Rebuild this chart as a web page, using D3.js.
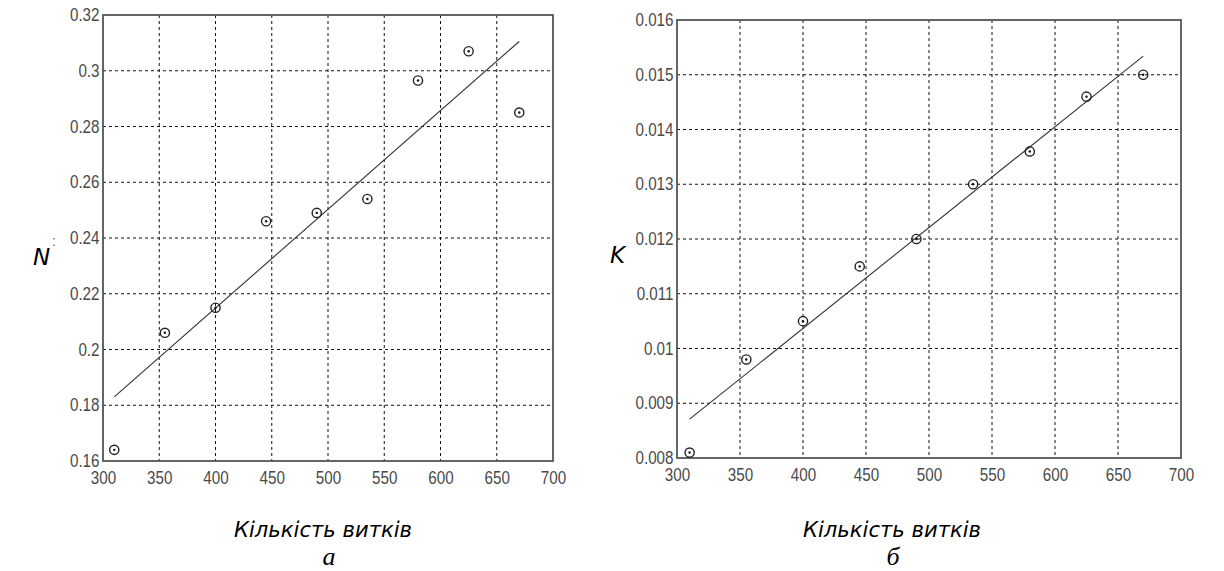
<!DOCTYPE html>
<html>
<head>
<meta charset="utf-8">
<script src="https://cdn.jsdelivr.net/npm/d3@7"></script>
<style>
  html, body { margin: 0; padding: 0; background: #fff; }
  svg { display: block; }
</style>
</head>
<body>
<svg id="chart" width="1224" height="571"></svg>
<script>
// ---------- data ----------
const turns = [310, 355, 400, 445, 490, 535, 580, 625, 670];
const valuesN = [0.164, 0.206, 0.215, 0.246, 0.249, 0.254, 0.2965, 0.307, 0.285];
const valuesK = [0.0081, 0.0098, 0.0105, 0.0115, 0.0120, 0.0130, 0.0136, 0.0146, 0.0150];
const fitN = [[310, 0.183], [670, 0.3105]];
const fitK = [[310, 0.00871], [670, 0.01534]];
const xTicks = [300, 350, 400, 450, 500, 550, 600, 650, 700];
const yTicksN = [0.16, 0.18, 0.2, 0.22, 0.24, 0.26, 0.28, 0.3, 0.32];
const yTickLabelsN = ["0.16", "0.18", "0.2", "0.22", "0.24", "0.26", "0.28", "0.3", "0.32"];
const yTicksK = [0.008, 0.009, 0.010, 0.011, 0.012, 0.013, 0.014, 0.015, 0.016];
const yTickLabelsK = ["0.008", "0.009", "0.01", "0.011", "0.012", "0.013", "0.014", "0.015", "0.016"];
const xTitle = "Кількість витків";
const yTitles = ["N", "K"];
const panelLetters = ["а", "б"];

const svg = d3.select("#chart");

function panel(cfg) {
  const x = d3.scaleLinear().domain([300, 700]).range([cfg.x0, cfg.x1]);
  const y = d3.scaleLinear().domain(cfg.yDomain).range([cfg.y1, cfg.y0]);
  const g = svg.append("g");

  // grid
  g.append("g").selectAll("line").data(xTicks.slice(1, -1)).join("line")
    .attr("x1", d => x(d)).attr("x2", d => x(d))
    .attr("y1", cfg.y0).attr("y2", cfg.y1)
    .attr("stroke", "#111").attr("stroke-width", 1).attr("stroke-dasharray", "3,3");
  g.append("g").selectAll("line").data(cfg.yTicks.slice(1, -1)).join("line")
    .attr("y1", d => y(d)).attr("y2", d => y(d))
    .attr("x1", cfg.x0).attr("x2", cfg.x1)
    .attr("stroke", "#111").attr("stroke-width", 1).attr("stroke-dasharray", "3,3");

  // axes (labels only, MATLAB style)
  const xAxis = d3.axisBottom(x).tickValues(xTicks).tickSize(0).tickPadding(10).tickFormat(d3.format("d"));
  const gx = g.append("g").attr("transform", `translate(0,${cfg.y1})`).call(xAxis);
  const yAxis = d3.axisLeft(y).tickValues(cfg.yTicks).tickSize(0).tickPadding(3)
    .tickFormat((d, i) => cfg.yLabels[i]);
  const gy = g.append("g").attr("transform", `translate(${cfg.x0},0)`).call(yAxis);
  [gx, gy].forEach(a => {
    a.select(".domain").remove();
    a.selectAll("text").attr("fill", "#4a4a4a")
      .attr("transform", "scale(0.8,1)")
      .style("font-family", "'Liberation Sans', Arial, sans-serif")
      .style("font-size", "19px");
  });
  gy.selectAll("text").attr("x", -3.5 / 0.8).attr("dy", "0.30em");
  gx.selectAll("text").attr("dy", "0.68em");

  // frame
  g.append("rect").attr("x", cfg.x0).attr("y", cfg.y0)
    .attr("width", cfg.x1 - cfg.x0).attr("height", cfg.y1 - cfg.y0)
    .attr("fill", "none").attr("stroke", "#555").attr("stroke-width", 1.8);

  // fit line
  g.append("path").datum(cfg.fit)
    .attr("d", d3.line().x(d => x(d[0])).y(d => y(d[1])))
    .attr("fill", "none").attr("stroke", "#333").attr("stroke-width", 1.1);

  // markers
  const pts = turns.map((t, i) => [t, cfg.values[i]]);
  g.append("g").selectAll("circle").data(pts).join("circle")
    .attr("cx", d => x(d[0])).attr("cy", d => y(d[1])).attr("r", 4.6)
    .attr("fill", "none").attr("stroke", "#222").attr("stroke-width", 1.4);
  g.append("g").selectAll("circle").data(pts).join("circle")
    .attr("cx", d => x(d[0])).attr("cy", d => y(d[1])).attr("r", 1.2)
    .attr("fill", "#111");

  // y title with white backing
  g.append("rect").attr("x", cfg.titleX - 4).attr("y", cfg.titleY - 24)
    .attr("width", cfg.maskW).attr("height", 30).attr("fill", "#fff");
  g.append("text").attr("x", cfg.titleX).attr("y", cfg.titleY)
    .text(cfg.title)
    .style("font-family", "'DejaVu Sans', sans-serif").style("font-style", "italic")
    .style("font-size", "23px").attr("fill", "#000");

  // x title
  g.append("text").attr("x", cfg.xtX).attr("y", 537)
    .attr("text-anchor", "middle")
    .text(xTitle)
    .attr("textLength", 178).attr("lengthAdjust", "spacingAndGlyphs")
    .style("font-family", "'DejaVu Sans Condensed', 'DejaVu Sans', sans-serif")
    .style("font-style", "italic").style("font-size", "21px").attr("fill", "#000");
  g.append("text").attr("x", cfg.letterX).attr("y", 565)
    .attr("text-anchor", "middle")
    .text(cfg.letter)
    .style("font-family", "'Liberation Serif', serif")
    .style("font-style", "italic").style("font-size", "26px").attr("fill", "#000");
}

panel({
  x0: 103, x1: 553, y0: 15, y1: 461,
  yDomain: [0.16, 0.32], yTicks: yTicksN, yLabels: yTickLabelsN,
  values: valuesN, fit: fitN,
  title: yTitles[0], titleX: 33, titleY: 265, maskW: 22,
  xtX: 323, letterX: 329, letter: panelLetters[0]
});
panel({
  x0: 677, x1: 1181, y0: 20, y1: 458,
  yDomain: [0.008, 0.016], yTicks: yTicksK, yLabels: yTickLabelsK,
  values: valuesK, fit: fitK,
  title: yTitles[1], titleX: 610, titleY: 263, maskW: 30,
  xtX: 892, letterX: 893, letter: panelLetters[1]
});

// small ':' remnant left of the left panel's labels
svg.append("text").attr("x", 52).attr("y", 246).text(":")
  .style("font-family", "'Liberation Sans', sans-serif").style("font-size", "14px").attr("fill", "#666");

// cut-off line of text at the very top (only descenders visible, as in the reference)
svg.append("text").attr("x", 34).attr("y", -6).text("групу при параметрах р")
  .style("font-family", "'Liberation Serif', serif").style("font-size", "30px").attr("fill", "#000");
</script>
</body>
</html>
